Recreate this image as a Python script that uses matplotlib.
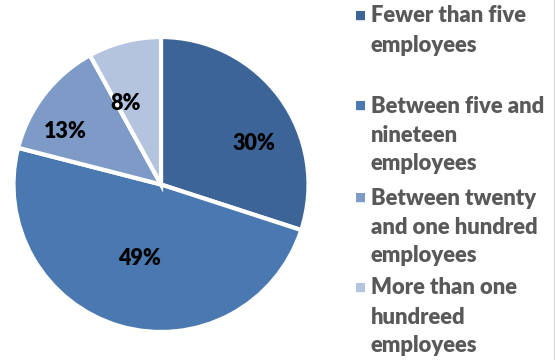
import matplotlib.pyplot as plt
import numpy as np
from matplotlib.lines import Line2D

categories = [
    ["Fewer than five", "employees"],
    ["Between five and", "nineteen", "employees"],
    ["Between twenty", "and one hundred", "employees"],
    ["More than one", "hundreed", "employees"],
]
shares = [30, 49, 13, 8]
colors = ["#3d6496", "#4a78b0", "#7e9bc8", "#b4c4de"]

# label placement inside each wedge: (fraction of radius, angle nudge in degrees)
label_place = [(0.69, -12), (0.52, 0), (0.74, 9), (0.60, 9)]

fig = plt.figure(figsize=(5.55, 3.6), dpi=100)
ax = fig.add_axes([13.5 / 555, 28 / 360, 295 / 555, 295 / 360])

wedges, texts = ax.pie(shares, colors=colors, startangle=90, counterclock=False,
                       wedgeprops=dict(edgecolor="white", linewidth=3))
ax.set_xlim(-1, 1)
ax.set_ylim(-1, 1)
ax.set_aspect("equal")
for w in wedges:
    w.set_clip_on(False)

for w, val, (r, nudge) in zip(wedges, shares, label_place):
    ang = np.deg2rad((w.theta1 + w.theta2) / 2 + nudge)
    ax.text(r * np.cos(ang), r * np.sin(ang), f"{val}%", ha="center", va="center",
            fontsize=15.5, fontweight="heavy", family="Lato", color="black")

# legend drawn line by line with square markers
legend_top = [15, 105, 197, 287]
line_step = 29
for lines, col, y in zip(categories, colors, legend_top):
    fig.text(355 / 555, 1 - y / 360, "\u25a0", color=col, fontsize=8.5,
             ha="left", va="center", family="DejaVu Sans")
    for i, line in enumerate(lines):
        fig.text(371 / 555, 1 - (y + i * line_step + 1) / 360, line, color="#595959",
                 fontsize=15.8, fontweight="heavy", family="Lato",
                 ha="left", va="center")

fig.add_artist(Line2D([553.5 / 555, 553.5 / 555], [0, 1], color="#d9d9d9", lw=1))

fig.savefig("out.png", dpi=100)
